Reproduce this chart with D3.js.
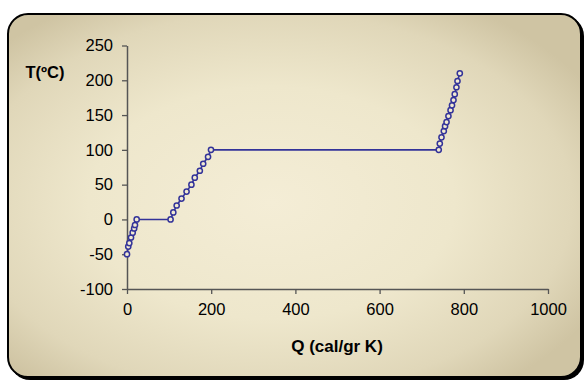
<!DOCTYPE html>
<html><head><meta charset="utf-8">
<script src="https://cdn.jsdelivr.net/npm/d3@7"></script>
<style>html,body{margin:0;padding:0;background:#fff;}svg{display:block;}</style>
</head><body>
<script>
// Data: heat Q (cal/gr K) vs temperature T (ºC)
const heatQ = [0, 3, 5.5, 9.5, 13.5, 17, 19, 23,
  103.5, 110, 118, 129.5, 141.5, 153, 161, 173, 181, 192.5, 199.5,
  740.5, 743, 747, 752.5, 755.5, 759, 763.5, 768.5, 772, 775.5, 778.5, 782.5, 785, 790.5];
const tempT = [-50, -39, -34, -26, -19, -13, -8, 0,
  0, 10, 20, 30, 40, 50, 60, 70, 80, 90, 100,
  100, 109, 118, 127, 134, 140, 148.5, 157, 164, 171.5, 180, 190, 199, 210];
const xTicks = [0, 200, 400, 600, 800, 1000];
const yTicks = [-100, -50, 0, 50, 100, 150, 200, 250];
const xTitle = "Q (cal/gr K)";
const yTitle = "T(ºC)";

const W = 586, H = 381;
const svg = d3.select("body").append("svg").attr("width", W).attr("height", H);
const defs = svg.append("defs");
const grad = defs.append("radialGradient").attr("id", "bg")
  .attr("cx", "46%").attr("cy", "52%").attr("r", "64%");
grad.append("stop").attr("offset", "0%").attr("stop-color", "#f4edd6");
grad.append("stop").attr("offset", "50%").attr("stop-color", "#eee7cc");
grad.append("stop").attr("offset", "82%").attr("stop-color", "#e0d7b9");
grad.append("stop").attr("offset", "100%").attr("stop-color", "#cfc4a3");

// shadow + frame
svg.append("rect").attr("x", 10).attr("y", 16).attr("width", 574).attr("height", 364)
  .attr("rx", 20).attr("fill", "#000");
svg.append("rect").attr("x", 8).attr("y", 14).attr("width", 573).attr("height", 363)
  .attr("rx", 20).attr("fill", "url(#bg)").attr("stroke", "#000").attr("stroke-width", 2);

const x = d3.scaleLinear().domain([0, 1000]).range([127, 548]);
const y = d3.scaleLinear().domain([-100, 250]).range([289, 45.5]);

const font = "'Liberation Sans', Arial, sans-serif";
const axisColor = "#555";
const fmt = d => String(d);

const xAxis = svg.append("g").attr("transform", `translate(0,${y(-100)})`)
  .call(d3.axisBottom(x).tickValues(xTicks).tickFormat(fmt).tickSize(5).tickPadding(9).tickSizeOuter(0));
const yAxis = svg.append("g").attr("transform", `translate(${x(0)},0)`)
  .call(d3.axisLeft(y).tickValues(yTicks).tickFormat(fmt).tickSize(5).tickPadding(9).tickSizeOuter(0));
[xAxis, yAxis].forEach(g => {
  g.select(".domain").attr("stroke", axisColor).attr("stroke-width", 1.5);
  g.selectAll(".tick line").attr("stroke", axisColor).attr("stroke-width", 1.3);
  g.selectAll("text").attr("font-family", font).attr("font-size", 16.5).attr("fill", "#000");
});

const pts = heatQ.map((q, i) => [q, tempT[i]]);
svg.append("path").datum(pts)
  .attr("d", d3.line().x(d => x(d[0])).y(d => y(d[1])))
  .attr("fill", "none").attr("stroke", "#333399").attr("stroke-width", 1.6);
svg.append("g").selectAll("circle").data(pts).join("circle")
  .attr("cx", d => x(d[0])).attr("cy", d => y(d[1])).attr("r", 2.6)
  .attr("fill", "#f1ead2").attr("stroke", "#333399").attr("stroke-width", 1.5);

svg.append("text").attr("x", 337).attr("y", 352).attr("text-anchor", "middle")
  .attr("font-family", font).attr("font-weight", "bold").attr("font-size", 17)
  .text(xTitle);
svg.append("text").attr("x", 45).attr("y", 78).attr("text-anchor", "middle")
  .attr("font-family", font).attr("font-weight", "bold").attr("font-size", 16.5)
  .text(yTitle);
</script>
</body></html>
